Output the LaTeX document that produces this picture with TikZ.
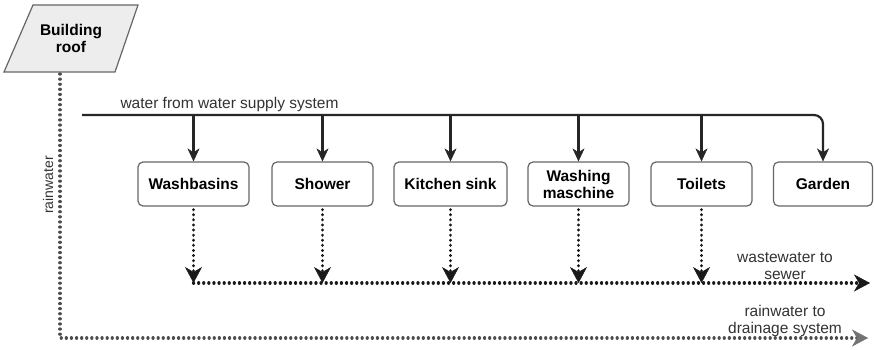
\documentclass[tikz,border=0pt]{standalone}
\usepackage{fontspec}
\setmainfont{Liberation Sans}
\usetikzlibrary{arrows.meta}
\tikzset{
  usebox/.style={draw=black!60,line width=1.2pt,rounded corners=5pt,minimum height=44pt,
    font=\fontsize{15.5}{17}\selectfont\bfseries,align=center,inner sep=2pt},
  label/.style={font=\fontsize{15.5}{17}\selectfont,align=center,text=black!80,inner sep=0pt},
  supply/.style={draw=black!85,line width=2.2pt,-{Stealth[length=13pt,width=12pt,inset=4pt,line width=0.5pt]}},
  waste/.style={draw=black!90,line width=3.2pt,line cap=round,dash pattern=on 0.1pt off 5pt},
  wastetip/.style={draw=black!90,line width=3.2pt,-{Stealth[length=16pt,width=17pt,inset=5pt,line width=0.5pt]}},
  rain/.style={draw=black!70,line width=3.2pt,line cap=round,dash pattern=on 0.1pt off 5pt},
  raintip/.style={draw=black!55,line width=3.2pt,-{Stealth[length=16pt,width=17pt,inset=5pt,line width=0.5pt]}}
}
\begin{document}
\begin{tikzpicture}[x=1pt,y=-1pt]
\useasboundingbox[fill=white] (0,0) rectangle (874,350);
% Drawing the roof
\filldraw[fill=black!7,draw=black!60,line width=1.2pt] (33,5) -- (138,5) -- (115,72) -- (4,72) -- cycle;
\node[font=\fontsize{15.5}{17}\selectfont\bfseries,align=center,minimum height=67pt] (roof) at (71,38.5) {Building\\roof};
\coordinate (roofbot) at (60,74);
% Drawing the uses
\node[usebox,minimum width=111pt] (washbasins) at (193.5,184) {Washbasins};
\node[usebox,minimum width=101pt] (shower) at (322.5,184) {Shower};
\node[usebox,minimum width=113pt] (kitchen) at (450.5,184) {Kitchen sink};
\node[usebox,minimum width=101pt] (washing) at (578.5,184) {Washing\\maschine};
\node[usebox,minimum width=101pt] (toilets) at (701.5,184) {Toilets};
\node[usebox,minimum width=99pt] (garden) at (823,184) {Garden};
% Drawing the supply line
\coordinate (supplystart) at (82,115);
\draw[supply,rounded corners=9pt] (supplystart) -| (garden);
\foreach \n in {washbasins,shower,kitchen,washing,toilets}
  \draw[supply] (\n.north |- supplystart) -- (\n);
\node[label] (supplylabel) at (229.5,104) {water from water supply system};
% Drawing the wastewater (dots first, then a solid stub for the tip)
\coordinate (sewer) at (870,283);
\foreach \n in {washbasins,shower,kitchen,washing,toilets}{
  \draw[waste] ([yshift=-3pt]\n.south) -- ([yshift=9pt]\n |- sewer);
  \draw[wastetip] ([yshift=9pt]\n |- sewer) -- (\n |- sewer);
}
\draw[waste] (washbasins |- sewer) -- ([xshift=-9pt]sewer);
\draw[wastetip] ([xshift=-9pt]sewer) -- (sewer);
\node[label] (sewerlabel) at (785,266) {wastewater to\\sewer};
% Drawing the rainwater
\coordinate (drain) at (868,338);
\draw[rain] (roofbot) |- ([xshift=-9pt]drain);
\draw[raintip] ([xshift=-9pt]drain) -- (drain);
\node[label,rotate=90,font=\fontsize{14}{15}\selectfont] (rainlabel) at (48,185) {rainwater};
\node[label] (drainlabel) at (785,321) {rainwater to\\drainage system};
\end{tikzpicture}
\end{document}
